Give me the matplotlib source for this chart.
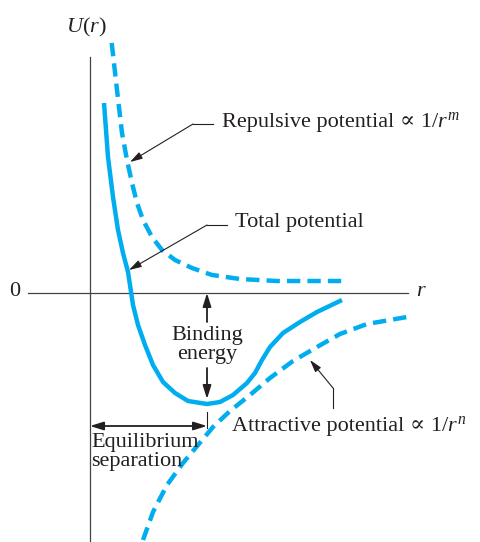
import matplotlib
matplotlib.use("Agg")
import matplotlib.pyplot as plt

plt.rcParams['font.family'] = ['Liberation Serif', 'DejaVu Serif']
plt.rcParams['mathtext.fontset'] = 'custom'
plt.rcParams['mathtext.rm'] = 'Liberation Serif'
plt.rcParams['mathtext.it'] = 'Liberation Serif:italic'

# curves (r, U in arbitrary units, origin at axis crossing)
rep_r = [21.7, 27, 32, 37, 42, 47, 53, 62, 72, 85, 102, 122, 150, 187, 257]
rep_U = [250, 203, 160, 133, 110, 90, 73, 56, 43, 33, 25, 18, 14, 12, 12]

tot_r = [14, 18, 23, 28, 33, 38, 40, 43, 48, 55, 63, 73, 85, 98, 117, 130, 143,
         157, 165, 172, 180, 193, 210, 227, 252]
tot_U = [190, 136, 96, 63, 40, 21, 8, -12, -32, -52, -72, -89, -100, -108, -111,
         -109, -102, -90, -80, -67, -54, -40, -29, -19, -7]

att_r = [53, 63, 77, 93, 108, 123, 140, 160, 180, 203, 227, 250, 277, 317]
att_U = [-247, -219, -192, -170, -152, -134, -118, -102, -85, -68, -54, -41, -31, -24]

r0, U0 = 117, -111      # equilibrium separation / binding energy

blue = '#00aeef'
ink = '#231f20'
fs = 16

fig = plt.figure(figsize=(4.81, 5.42), dpi=100, facecolor='white')
ax = fig.add_axes([0, 0, 1, 1])
ax.set_xlim(-90, 391)
ax.set_ylim(-249, 293)
ax.axis('off')


def label(x, y, parts):
	# chain pieces so the proportional sign can come from another font
	t = ax.text(x, y, parts[0][0], ha='left', va='center', fontsize=fs,
	            color=ink, family=parts[0][1])
	for s, fam in parts[1:]:
		t = ax.annotate(s, xy=(1, 0), xycoords=t, ha='left', va='bottom',
		                fontsize=fs, color=ink, family=fam)


# axes
ax.plot([0, 0], [236, -249], color='#444444', lw=0.9)
ax.plot([-62, 318], [0, 0], color='#444444', lw=0.9)

curve = dict(color=blue, lw=3.2, solid_capstyle='butt', solid_joinstyle='round',
             dash_capstyle='butt', dash_joinstyle='round')
ax.plot(rep_r, rep_U, dashes=(3, 1.6), **curve)
ax.plot(tot_r, tot_U, **curve)
ax.plot(att_r, att_U, dashes=(3, 1.6), **curve)

ax.text(-4, 266, '$U(r)$', ha='center', va='center', fontsize=fs, color=ink)
ax.text(-75, 1, '0', ha='center', va='center', fontsize=fs, color=ink)
ax.text(331, 1, '$r$', ha='center', va='center', fontsize=fs, color=ink)

arr = dict(arrowstyle='-|>,head_length=0.75,head_width=0.22', color=ink, lw=0.8,
           shrinkA=0, shrinkB=0)

# repulsive label
label(132, 170, [('Repulsive potential ', 'Liberation Serif'),
                 ('\u221d', 'DejaVu Serif'),
                 (' 1/$r^{m}$', 'Liberation Serif')])
ax.plot([123, 103], [169, 169], color=ink, lw=0.8)
ax.annotate('', xy=(40, 131), xytext=(103, 169), arrowprops=arr)

# total label
ax.text(145, 71, 'Total potential', ha='left', va='center', fontsize=fs, color=ink)
ax.plot([137, 117], [68, 68], color=ink, lw=0.8)
ax.annotate('', xy=(39, 23), xytext=(117, 68), arrowprops=arr)

# attractive label
label(142, -134, [('Attractive potential ', 'Liberation Serif'),
                  ('\u221d', 'DejaVu Serif'),
                  (' 1/$r^{n}$', 'Liberation Serif')])
ax.plot([243, 243], [-115, -95], color=ink, lw=0.8)
ax.annotate('', xy=(220, -67), xytext=(243, -95), arrowprops=arr)

# binding energy
arr2 = dict(arrowstyle='-|>,head_length=0.8,head_width=0.25', color=ink, lw=1.3,
            shrinkA=0, shrinkB=0)
ax.annotate('', xy=(r0, 0), xytext=(r0, -29), arrowprops=arr2)
ax.annotate('', xy=(r0, U0 + 5), xytext=(r0, -75), arrowprops=arr2)
ax.text(r0, -52, 'Binding\nenergy', ha='center', va='center', fontsize=fs,
        color=ink, linespacing=1.0)

# equilibrium separation
ax.plot([r0, r0], [-119, -135], color=ink, lw=0.8)
ax.annotate('', xy=(0, -133), xytext=(r0, -133),
            arrowprops=dict(arrowstyle='<|-|>,head_length=0.8,head_width=0.25',
                            color=ink, lw=1.3, shrinkA=0, shrinkB=0))
ax.text(1, -159, 'Equilibrium\nseparation', ha='left', va='center', fontsize=fs,
        color=ink, linespacing=1.0)

fig.savefig('out.png', dpi=100, facecolor='white')
